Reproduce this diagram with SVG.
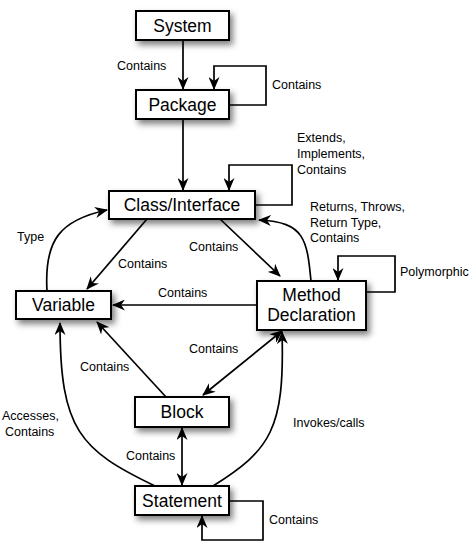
<svg xmlns="http://www.w3.org/2000/svg" width="474" height="542" viewBox="0 0 474 542">
<style>
.box{fill:#fff;stroke:#000;stroke-width:2;filter:url(#sh)}
.nt{font-family:"Liberation Sans",Arial,sans-serif;font-size:17.5px;text-anchor:middle;fill:#000}
.lb{font-family:"Liberation Sans",Arial,sans-serif;font-size:12.5px;fill:#000}
.c{fill:none;stroke:#000;stroke-width:1.7}
.a{marker-end:url(#ah)}
.b{marker-start:url(#ah);marker-end:url(#ah)}
</style>
<defs>
<filter id="sh" x="-20%" y="-30%" width="150%" height="180%">
<feDropShadow dx="3" dy="4" stdDeviation="3" flood-color="#000" flood-opacity="0.5"/>
</filter>
<marker id="ah" markerUnits="userSpaceOnUse" viewBox="0 0 13 11" refX="12" refY="5.5" markerWidth="13" markerHeight="11" orient="auto-start-reverse">
<path d="M0,0 L13,5.5 L0,11 L4,5.5 z" fill="#000"/>
</marker>
</defs>
<g id="connectors">
<path class="c a" d="M183 40 V89"/>
<path class="c a" d="M229 105 H266 V66 H214 V89"/>
<path class="c a" d="M183 119 V190"/>
<path class="c a" d="M255 205 H292 V165 H229 V190"/>
<path class="c a" d="M47 291 C44 240 60 220 107 210"/>
<path class="c a" d="M147 219 L87 289"/>
<path class="c a" d="M220 219 L280 276"/>
<path class="c a" d="M311 281 C307 240 305 222 259 220"/>
<path class="c a" d="M366 292 H395 V256 H338 V280"/>
<path class="c a" d="M257 305 H113"/>
<path class="c b" d="M203 395 L282 331"/>
<path class="c a" d="M166 397 L97 322"/>
<path class="c a" d="M155 486 C80 450 60 430 60 323"/>
<path class="c a" d="M213 486 C270 450 285 430 282 332"/>
<path class="c b" d="M182 428 V485"/>
<path class="c a" d="M229 501 H263 V540 H202 V516"/>
</g>
<g id="labels">
<text class="lb" x="117" y="70">Contains</text>
<text class="lb" x="272" y="89">Contains</text>
<text class="lb" x="297" y="142">Extends,</text>
<text class="lb" x="297" y="158">Implements,</text>
<text class="lb" x="297" y="174">Contains</text>
<text class="lb" x="310" y="211">Returns, Throws,</text>
<text class="lb" x="310" y="227">Return Type,</text>
<text class="lb" x="310" y="242">Contains</text>
<text class="lb" x="17" y="241">Type</text>
<text class="lb" x="189" y="251">Contains</text>
<text class="lb" x="118" y="268">Contains</text>
<text class="lb" x="400" y="276">Polymorphic</text>
<text class="lb" x="158" y="297">Contains</text>
<text class="lb" x="189" y="353">Contains</text>
<text class="lb" x="80" y="371">Contains</text>
<text class="lb" x="2" y="420">Accesses,</text>
<text class="lb" x="5" y="436">Contains</text>
<text class="lb" x="293" y="427">Invokes/calls</text>
<text class="lb" x="126" y="460">Contains</text>
<text class="lb" x="269" y="524">Contains</text>
</g>
<g id="system"><rect class="box" x="136" y="11" width="93" height="29"/><text class="nt" x="182.5" y="31.5">System</text></g>
<g id="package"><rect class="box" x="136" y="90" width="93" height="29"/><text class="nt" x="182.5" y="110.5">Package</text></g>
<g id="class"><rect class="box" x="109" y="191" width="146" height="28"/><text class="nt" x="182" y="211">Class/Interface</text></g>
<g id="variable"><rect class="box" x="16" y="291" width="95" height="28"/><text class="nt" x="63.5" y="311">Variable</text></g>
<g id="method"><rect class="box" x="257" y="281" width="109" height="49"/><text class="nt" x="311.5" y="301">Method</text><text class="nt" x="311.5" y="321">Declaration</text></g>
<g id="block"><rect class="box" x="135" y="397" width="94" height="30"/><text class="nt" x="182" y="418">Block</text></g>
<g id="statement"><rect class="box" x="135" y="486" width="94" height="29"/><text class="nt" x="182" y="506.5">Statement</text></g>
</svg>
